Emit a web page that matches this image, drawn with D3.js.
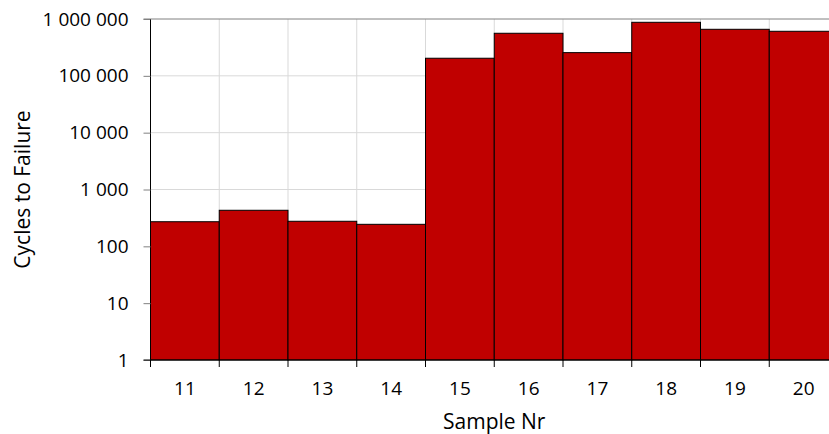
<!DOCTYPE html>
<html>
<head>
<meta charset="utf-8">
<script src="https://cdn.jsdelivr.net/npm/d3@7"></script>
<style>
  body { margin: 0; background: #fff; }
  svg { display: block; }
</style>
</head>
<body>
<div id="chart"></div>
<script>
// data
var samples = ["11", "12", "13", "14", "15", "16", "17", "18", "19", "20"];
var cycles = [271, 431, 276, 244, 204000, 561000, 256000, 875000, 659000, 608000];
var yTicks = [1, 10, 100, 1000, 10000, 100000, 1000000];

var svgWidth = 829;
var svgHeight = 434;

var margin = { top: 19, left: 150.5, bottom: 74 };
// the plot runs past the right edge of the picture
var width = 687.5;
var height = svgHeight - margin.top - margin.bottom;

var font = "'Open Sans', sans-serif";

var svg = d3.select("#chart").append("svg")
    .attr("width", svgWidth)
    .attr("height", svgHeight);

var chartGroup = svg.append("g")
    .attr("transform", `translate(${margin.left}, ${margin.top})`);

var xScale = d3.scaleBand()
    .domain(samples)
    .range([0, width])
    .padding(0);

var yScale = d3.scaleLog()
    .domain([1, 1000000])
    .range([height, 0]);

var fmt = function(d) {
    return d3.format(",")(d).replace(/,/g, " ");
};

// gridlines
chartGroup.append("g")
    .selectAll("line")
    .data(yTicks.slice(1, -1))
    .enter().append("line")
    .attr("x1", 0).attr("x2", width)
    .attr("y1", d => yScale(d)).attr("y2", d => yScale(d))
    .attr("stroke", "#d9d9d9").attr("stroke-width", 1);

chartGroup.append("g")
    .selectAll("line")
    .data(samples.slice(1))
    .enter().append("line")
    .attr("x1", d => xScale(d)).attr("x2", d => xScale(d))
    .attr("y1", 0).attr("y2", height)
    .attr("stroke", "#d9d9d9").attr("stroke-width", 1);

// top border
chartGroup.append("line")
    .attr("x1", -7).attr("x2", width)
    .attr("y1", 0).attr("y2", 0)
    .attr("stroke", "#808080").attr("stroke-width", 1);

// bars
chartGroup.selectAll("rect")
    .data(cycles)
    .enter().append("rect")
    .attr("x", (d, i) => xScale(samples[i]))
    .attr("y", d => yScale(d))
    .attr("width", xScale.bandwidth())
    .attr("height", d => height - yScale(d))
    .attr("fill", "#c00000")
    .attr("stroke", "#000")
    .attr("stroke-width", 1);

// y axis
var yAxis = d3.axisLeft(yScale)
    .tickValues(yTicks)
    .tickFormat(fmt)
    .tickSize(7)
    .tickPadding(15);

var yg = chartGroup.append("g").call(yAxis);
yg.attr("font-family", font).attr("font-size", 19);
yg.select(".domain").attr("stroke", "#000").attr("d", `M0,0V${height}`);
yg.selectAll(".tick line").attr("stroke", "#808080");
yg.selectAll("text").attr("fill", "#000");

// x axis
var xAxis = d3.axisBottom(xScale).tickSize(0).tickPadding(22);
var xg = chartGroup.append("g")
    .attr("transform", `translate(0, ${height})`)
    .call(xAxis);
xg.attr("font-family", font).attr("font-size", 19);
xg.select(".domain").attr("stroke", "#000").attr("d", `M-7,0H${width}`);
xg.selectAll("text").attr("fill", "#000");

// boundary ticks between categories
chartGroup.append("g")
    .selectAll("line")
    .data(samples)
    .enter().append("line")
    .attr("x1", d => xScale(d)).attr("x2", d => xScale(d))
    .attr("y1", height).attr("y2", height + 7)
    .attr("stroke", "#000").attr("stroke-width", 1);

// axis titles
svg.append("text")
    .attr("x", margin.left + width / 2)
    .attr("y", 429)
    .attr("text-anchor", "middle")
    .attr("font-family", font)
    .attr("font-size", 21)
    .text("Sample Nr");

svg.append("text")
    .attr("transform", `translate(29.5, ${margin.top + height / 2}) rotate(-90)`)
    .attr("text-anchor", "middle")
    .attr("font-family", font)
    .attr("font-size", 21)
    .text("Cycles to Failure");
</script>
</body>
</html>
